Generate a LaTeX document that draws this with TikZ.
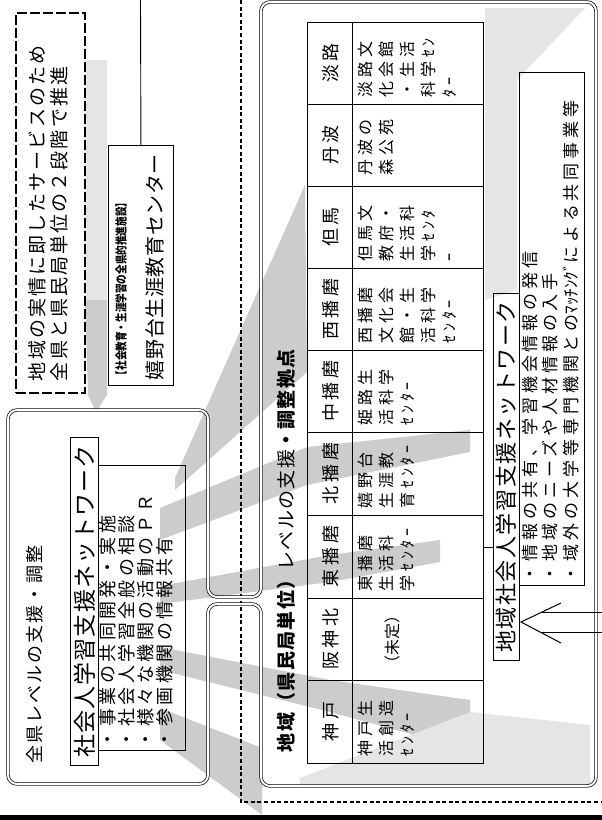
\documentclass[tikz,border=0pt]{standalone}
\usepackage{graphicx}
\usepackage{fontspec}
\newfontfamily\jp{Noto Sans CJK JP}
\newcommand\jfs[3]{\jp\fontsize{#1}{#2}\selectfont\addfontfeature{LetterSpace=#3}}
\usetikzlibrary{calc}
\begin{document}
\begin{tikzpicture}[x=1pt,y=-1pt,
  vt/.style={rotate=90, inner sep=0pt, outer sep=0pt},
  ray/.style={fill=black!20, draw=none},
  rayl/.style={fill=black!10, draw=none},
  boxline/.style={draw, line width=0.9pt, inner sep=0pt, anchor=north west},
  dbl/.style={draw, line width=0.7pt, double=white, double distance=2pt},
  notebox/.style={draw, line width=2.2pt, dash pattern=on 10pt off 3pt, inner sep=0pt, anchor=north west},
  dline/.style={line width=1.8pt, dash pattern=on 4pt off 2.6pt},
  datatext/.style={vt, anchor=north west, align=left, font=\jfs{16}{21}{22}},
  headtext/.style={vt, font=\jfs{18}{20}{20}}
]
\useasboundingbox (0,0) rectangle (602,820);
\fill[white] (0,0) rectangle (602,820);

% ---------- stippled rays ----------
\fill[rayl] (85,60) -- (107,60) -- (107,300) -- (85,300) -- cycle;
\fill[ray] (85,300) -- (107,300) -- (107,395) -- (96,412) -- (88,395) -- cycle;
\fill[ray] (175,478) -- (305,185) -- (307,372) -- (175,490) -- cycle;
\fill[ray] (160,508) -- (307,447) -- (470,430) -- (470,452) -- (307,485) -- (160,540) -- cycle;
\fill[ray] (160,586) -- (330,555) -- (440,540) -- (440,562) -- (330,582) -- (160,604) -- cycle;
\fill[ray] (160,647) -- (330,680) -- (470,700) -- (470,750) -- (330,712) -- (160,670) -- cycle;
\fill[ray] (160,708) -- (262,748) -- (262,815) -- (160,740) -- cycle;
\fill[rayl] (300,778) -- (470,712) -- (590,725) -- (590,784) -- (300,784) -- cycle;
\fill[rayl] (485,8) -- (585,8) -- (517,80) -- (517,290) -- (485,300) -- cycle;

% ---------- dashed boundary ----------
\coordinate (d1) at (241,0);
\coordinate (d2) at (241,802);
\coordinate (d3) at (602,802);
\draw[dline] (d1) -- (d2) -- (d3);

% ---------- bottom scan edge ----------
\fill[black] (0,815) rectangle (602,820);

% ---------- note box ----------
\node[notebox, minimum width=69pt, minimum height=380pt] (note) at (15,12) {};
\node[vt, anchor=west, font=\jfs{19}{22}{11}] (n1) at (37,381) {地域の実情に即したサービスのため};
\node[vt, anchor=west, font=\jfs{19}{22}{11}] (n2) at (59,381) {全県と県民局単位の２段階で推進};

% ---------- Ureshinodai box ----------
\node[boxline, minimum width=65pt, minimum height=240pt] (ures) at (108,145) {};
\coordinate (tp) at (140.5,0);
\draw[line width=0.9pt] (tp) -- (ures.north);
\node[vt, anchor=west, font=\jp\bfseries\fontsize{12}{14}\selectfont] (u1) at (121,380) {\scalebox{0.8}[1]{【社会教育・生涯学習の全県的推進施設】}};
\node[vt, anchor=west, font=\jfs{20}{24}{3}] (u2) at (155,380) {嬉野台生涯教育センター};

% ---------- double rounded outline of both boxes ----------
\draw[dbl, rounded corners=9pt] (100,410) -- (208,410) -- (208,597) -- (261,597) -- (261,2) -- (596,2) -- (596,786) -- (261,786) -- (261,604) -- (208,604) -- (208,784) -- (8,784) -- (8,410) -- cycle;

% ---------- left box content ----------
\node[vt, anchor=west, font=\jfs{18}{20}{11}] (lt) at (35,763) {全県レベルの支援・調整};
\node[boxline, minimum width=28pt, minimum height=328pt] (ntt) at (70,437) {};
\node[boxline, minimum width=87pt, minimum height=285pt] (ntl) at (98,465) {};
\node[vt, font=\jfs{23}{26}{5}] at (ntt.center) {社会人学習支援ネットワーク};
\node[datatext, font=\jfs{18}{19}{19}] (ntx) at (99,748) {・事業の共同開発・実施\\・社会人学習全般の相談\\・様々な機関の活動のＰＲ\\・参画機関の情報共有};

% ---------- right box title ----------
\node[vt, anchor=west, font=\jfs{19}{22}{7}] (rt) at (286,752) {{\bfseries 地域（県民局単位）}レベルの支援{\bfseries ・調整拠点}};

% ---------- table ----------
\node[boxline, minimum width=176pt, minimum height=741pt] (tbl) at (307,22) {};
\draw[line width=0.9pt] (352,22) -- (352,763);
\foreach \yy in {104,186,268,350,432,515,598,680}
  \draw[line width=0.9pt] (307,\yy) -- (483,\yy);

\node[headtext] (h1) at (331,63) {淡路};
\node[headtext] (h2) at (331,145) {丹波};
\node[headtext] (h3) at (331,227) {但馬};
\node[headtext] (h4) at (331,309) {西播磨};
\node[headtext] (h5) at (331,391) {中播磨};
\node[headtext] (h6) at (331,473.5) {北播磨};
\node[headtext] (h7) at (331,556.5) {東播磨};
\node[headtext] (h8) at (331,639) {阪神北};
\node[headtext] (h9) at (331,721.5) {神戸};

\node[datatext] (c1) at (358,97) {淡路文\\化会館\\・生活\\科学ｾﾝ\\ﾀｰ};
\node[datatext] (c2) at (358,175) {丹波の\\森公苑};
\node[datatext] (c3) at (358,261) {但馬文\\教府・\\生活科\\学ｾﾝﾀ\\ｰ};
\node[datatext] (c4) at (358,343) {西播磨\\文化会\\館・生\\活科学\\ｾﾝﾀｰ};
\node[datatext] (c5) at (358,425) {姫路生\\活科学\\ｾﾝﾀｰ};
\node[datatext] (c6) at (358,508) {嬉野台\\生涯教\\育ｾﾝﾀｰ};
\node[datatext] (c7) at (358,591) {東播磨\\生活科\\学ｾﾝﾀｰ};
\node[vt, font=\jfs{16}{18}{0}] (c8) at (392,639) {（未定）};
\node[datatext] (c9) at (358,756) {神戸生\\活創造\\ｾﾝﾀｰ};

% ---------- local network ----------
\node[boxline, minimum width=26pt, minimum height=367pt] (lnt) at (493,293) {};
\node[boxline, minimum width=65pt, minimum height=513pt] (lnl) at (519,72) {};
\node[vt, font=\jfs{22}{24}{7}] at (lnt.center) {地域社会人学習支援ネットワーク};
\node[datatext, font=\jfs{17}{20.5}{23}] (lnx) at (522,582) {・情報の共有、学習機会情報の発信\\・地域のニーズや人材情報の入手\\・域外の大学等専門機関との{\addfontfeature{LetterSpace=0}ﾏｯﾁﾝｸﾞ}による共同事業等};

\coordinate (jy) at (488,547);
\draw[line width=0.9pt] (tbl.east |- jy) -- (lnt.west |- jy);

% ---------- open arrow into local network ----------
\coordinate (atip) at (521,622);
\coordinate (ab1) at (561,603);
\coordinate (ab2) at (561,643);
\coordinate (s1a) at (542,612);
\coordinate (s1b) at (602,612);
\coordinate (s2a) at (542,632);
\coordinate (s2b) at (602,632);
\draw[line width=1pt] (ab1) -- (atip) -- (ab2);
\draw[line width=1pt] (s1a) -- (s1b);
\draw[line width=1pt] (s2a) -- (s2b);
\end{tikzpicture}
\end{document}
